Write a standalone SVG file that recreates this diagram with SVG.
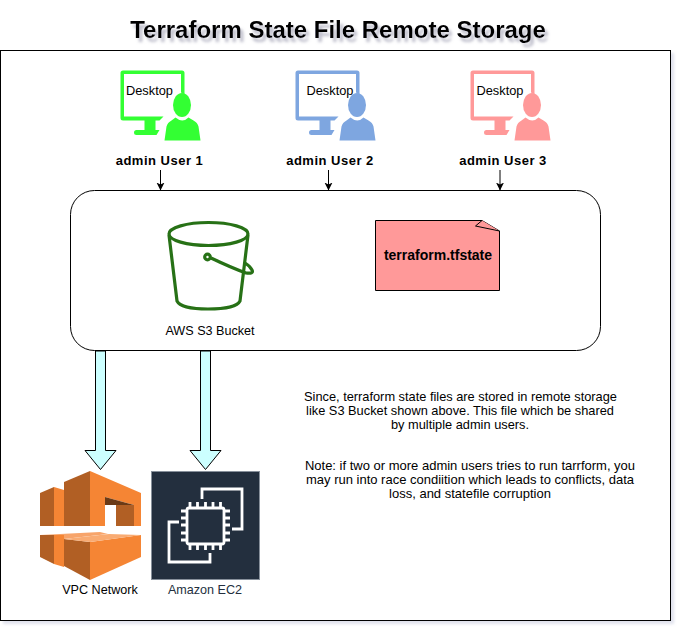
<svg xmlns="http://www.w3.org/2000/svg" width="682" height="632" viewBox="0 0 682 632">
<defs>
<filter id="ts" x="-5%" y="-30%" width="110%" height="170%"><feGaussianBlur in="SourceAlpha" stdDeviation="1.8"/><feOffset dx="3" dy="4"/><feColorMatrix values="0 0 0 0 0.35 0 0 0 0 0.35 0 0 0 0 0.45 0 0 0 0.7 0"/><feMerge><feMergeNode/><feMergeNode in="SourceGraphic"/></feMerge></filter>
<filter id="bs" x="-2%" y="-2%" width="104%" height="104%"><feGaussianBlur in="SourceAlpha" stdDeviation="1.5"/><feOffset dx="3" dy="3"/><feColorMatrix values="0 0 0 0 0.6 0 0 0 0 0.62 0 0 0 0 0.75 0 0 0 0.6 0"/><feMerge><feMergeNode/><feMergeNode in="SourceGraphic"/></feMerge></filter>
<marker id="ah" markerWidth="9" markerHeight="9" refX="7.5" refY="4" orient="auto" markerUnits="userSpaceOnUse"><path d="M0 0L8 4L0 8L2 4Z" fill="#000"/></marker>
<g id="pc"><path d="M2.500 0H61.500Q64 0 64 2.500V24L60.500 22V3.500H3.500V46H43L39 50H35V59.500H39L36 64.500H16Q13.500 64.500 13.500 62T16 59.500H24V50H2.500Q0 50 0 47.500V2.500Q0 0 2.500 0Z"/><ellipse cx="61.500" cy="34.500" rx="9" ry="12"/><path d="M44 70L46 56Q47 52 51 50L55 47Q62 53 68 47L73 50Q77 52 78 56L80 70Z"/></g>
</defs>
<style>
text{font-family:"Liberation Sans",Arial,sans-serif;fill:#000}
.lb{font-size:13px;font-weight:bold;text-anchor:middle;letter-spacing:.5px}
.sm{font-size:12.600px;text-anchor:middle}
.nt{font-size:12.800px;text-anchor:middle}
.nb{font-size:13px;text-anchor:middle}
.dt{font-size:12.800px}
.c{stroke:#000;stroke-width:1;fill:none;marker-end:url(#ah)}
.fat{fill:#ccffff;stroke:#000;stroke-width:1}
</style>
<rect x="0" y="0" width="682" height="632" fill="#fff"/>
<rect x="0.500" y="50.500" width="670" height="570" fill="#fff" stroke="#000" filter="url(#bs)"/>
<text id="title" x="338" y="38" font-size="24" font-weight="bold" text-anchor="middle" filter="url(#ts)">Terraform State File Remote Storage</text>

<g id="connectors">
<path class="c" d="M160.500 170V190"/>
<path class="c" d="M328.500 170V190"/>
<path class="c" d="M500 170V190"/>
<path class="fat" d="M95.500 351H105.500V450.500H116L100.500 469.500L85 450.500H95.500Z"/>
<path class="fat" d="M200.500 351H210.500V450.500H221L205.500 469.500L190 450.500H200.500Z"/>
</g>

<g id="user1"><use href="#pc" x="120.500" y="70.500" fill="#33ff33"/><text class="dt" x="126" y="95">Desktop</text><text class="lb" x="159.500" y="165">admin User 1</text></g>
<g id="user2"><use href="#pc" x="295.500" y="70.500" fill="#7ea6e0"/><text class="dt" x="306.500" y="95">Desktop</text><text class="lb" x="330" y="165">admin User 2</text></g>
<g id="user3"><use href="#pc" x="470.500" y="70.500" fill="#ff9999"/><text class="dt" x="476.500" y="95">Desktop</text><text class="lb" x="503" y="165">admin User 3</text></g>

<g id="bucket-box"><rect x="70.500" y="190.500" width="530" height="160" rx="24" ry="24" fill="#fff" stroke="#000"/></g>

<g id="s3" fill="none" stroke="#277116" stroke-width="3.200">
<path d="M169 235L177 301Q181 309 208 309Q236 309 240 301L248 235"/>
<ellipse cx="208.500" cy="234" rx="39.500" ry="11.500"/>
<circle cx="207.500" cy="257" r="2.800"/>
<path d="M211 258Q232 268 246 273Q254 274 252 270Q250 266 245 263"/>
<text class="sm" x="210" y="335" stroke="none">AWS S3 Bucket</text>
</g>

<g id="tfstate">
<path d="M375.500 220.500H482L499.500 231V290.500H375.500Z" fill="#ff9999" stroke="#000"/>
<path d="M482 220.500L475.500 226L499.500 231" fill="#ff9999" stroke="#000"/>
<text x="438" y="260" text-anchor="middle" font-size="14" font-weight="bold">terraform.tfstate</text>
</g>

<g id="notes">
<text class="nt" x="460.500" y="401">Since, terraform state files are stored in remote storage</text>
<text class="nt" x="460" y="415">like S3 Bucket shown above. This file which be shared</text>
<text class="nt" x="460" y="429">by multiple admin users.</text>
<text class="nb" x="470" y="470">Note: if two or more admin users tries to run tarrform, you</text>
<text class="nb" x="470" y="484">may run into race condiition which leads to conflicts, data</text>
<text class="nb" x="470" y="498">loss, and statefile corruption</text>
</g>

<g id="vpc">
<path d="M40 493L54 487V526H40Z" fill="#b15f24"/>
<path d="M54 487L64 490V526H54Z" fill="#f58534"/>
<path d="M64 482L90 471V526H64Z" fill="#b15f24"/>
<path d="M90 471L141 493V526H134V505L105 497V526H90Z" fill="#f58534"/>
<path d="M105 497L134 505L105 505Z" fill="#6b3a16"/>
<path d="M116 505H134V526H116Z" fill="#b15f24"/>
<path d="M40 535H54V564L40 557Z" fill="#b15f24"/>
<path d="M54 535H64V567L54 564Z" fill="#f58534"/>
<path d="M40 535L100 532L108 534L64 539V535Z" fill="#f7a46a"/>
<path d="M64 539V566L90 580V542Z" fill="#b15f24"/>
<path d="M90 542L141 535V557L90 580Z" fill="#f58534"/>
<path d="M64 539L109 534L141 535L90 542Z" fill="#f9ab72"/>
<text class="sm" x="100" y="594">VPC Network</text>
</g>

<g id="ec2">
<rect x="151.500" y="471.500" width="108" height="108" fill="#232f3e" stroke="#87909b"/>
<path d="M202 499V489H242V529H232" fill="none" stroke="#fff" stroke-width="2.800"/>
<path d="M210 553V562H169V522H179" fill="none" stroke="#fff" stroke-width="2.800"/>
<rect x="187" y="508" width="37" height="36" rx="2" fill="none" stroke="#fff" stroke-width="2.800"/>
<path d="M190 502v6M197.500 502v6M205.500 502v6M213 502v6M220.500 502v6M190 544v6M197.500 544v6M205.500 544v6M213 544v6M220.500 544v6M181 511h6M181 518h6M181 525h6M181 533h6M181 540h6M224 511h6M224 518h6M224 525h6M224 533h6M224 540h6" stroke="#fff" stroke-width="2.800"/>
<text x="205" y="594" font-size="12.600" text-anchor="middle" style="fill:#232f3e">Amazon EC2</text>
</g>
</svg>
